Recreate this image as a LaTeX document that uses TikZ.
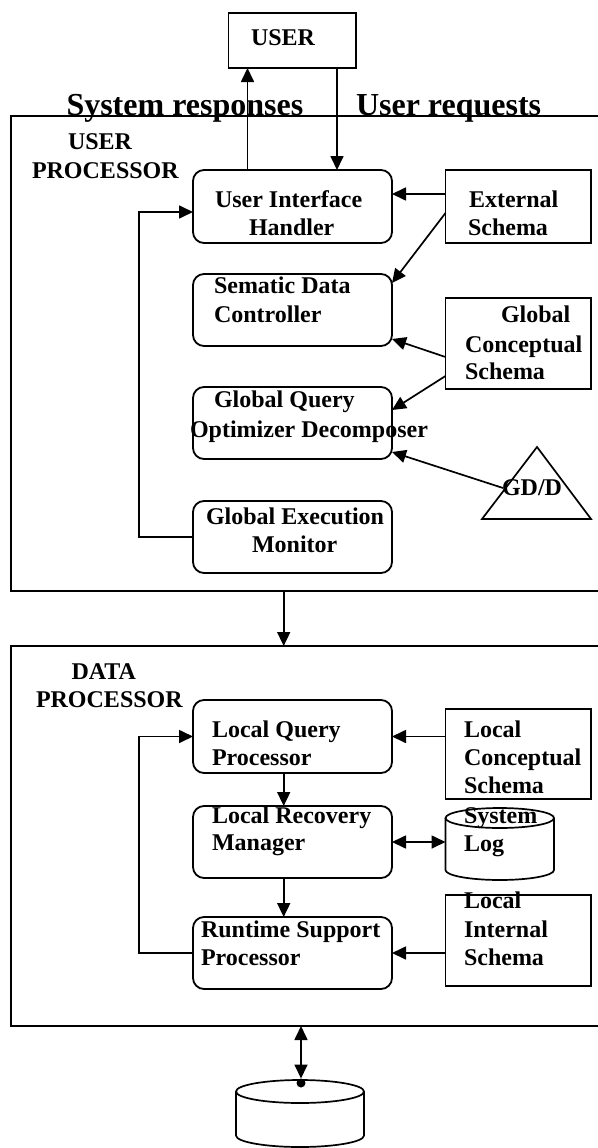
\documentclass[tikz,border=0pt]{standalone}
\usepackage{fontspec}
\setmainfont{Liberation Serif}
\usetikzlibrary{arrows.meta}

\begin{document}
\begin{tikzpicture}[x=1pt,y=-1pt,
  every node/.style={inner sep=0pt, outer sep=0pt},
  lbl/.style={font=\fontsize{24}{28}\selectfont\bfseries, anchor=base west},
  big/.style={font=\fontsize{32}{36}\selectfont\bfseries, anchor=base west},
  rbox/.style={draw, line width=1.8pt, rounded corners=11pt, minimum width=199pt, minimum height=72pt},
  sbox/.style={draw, line width=1.8pt, minimum width=145.5pt},
  frame/.style={draw, line width=1.8pt, minimum width=609pt},
  conn/.style={line width=1.7pt},
  arr/.style={conn, -{Triangle[length=14pt,width=13pt]}},
  darr/.style={conn, {Triangle[length=14pt,width=13pt]}-{Triangle[length=14pt,width=13pt]}}]

\useasboundingbox (0,0) rectangle (597,1148);
\fill[white] (0,0) rectangle (597,1148);

% ---------- user and the two processor frames ----------
\node[draw, line width=1.8pt, minimum width=127.5pt, minimum height=55pt] (user) at (292.25,40.5) {};
\node[lbl] (t-user) at (251,46) {USER};

\node[frame, minimum height=475pt] (up) at (315.5,353.5) {};
\node[frame, minimum height=380pt] (dp) at (315.5,836) {};

\node[big] (t-resp) at (66.5,115.5) {System responses};
\node[big] (t-req) at (356,115.5) {User requests};

\node[lbl] (t-up1) at (68,149) {USER};
\node[lbl] (t-up2) at (32,178) {PROCESSOR};
\node[lbl] (t-dp1) at (71.5,679) {DATA};
\node[lbl] (t-dp2) at (36,707) {PROCESSOR};

% ---------- user processor modules ----------
\node[rbox, minimum height=73pt] (uih) at (292.5,206.5) {};
\node[lbl] (t-uih1) at (215,207) {User Interface};
\node[lbl] (t-uih2) at (249,235) {Handler};

\node[rbox] (sdc) at (292.5,310) {};
\node[lbl] (t-sdc1) at (214,293) {Sematic Data};
\node[lbl] (t-sdc2) at (214,322) {Controller};

\node[rbox] (gq) at (292.5,423) {};
\node[lbl] (t-gq1) at (214,407) {Global Query};
\node[lbl] (t-gq2) at (190,437) {Optimizer Decomposer};

\node[rbox] (gem) at (292.5,537) {};
\node[lbl] (t-gem1) at (206,524) {Global Execution};
\node[lbl] (t-gem2) at (252,552) {Monitor};

% ---------- schemas and directory ----------
\node[sbox, minimum height=73pt] (es) at (518.25,206.5) {};
\node[lbl] (t-es1) at (469,207) {External};
\node[lbl] (t-es2) at (468,235) {Schema};

\node[sbox, minimum height=91pt] (gcs) at (518.25,343.5) {};
\node[lbl] (t-gcs1) at (501,322) {Global};
\node[lbl] (t-gcs2) at (465,352) {Conceptual};
\node[lbl] (t-gcs3) at (465,379) {Schema};

\draw[line width=1.7pt] (537,447) -- (482,519) -- (591,519) -- cycle;
\coordinate (gdd) at (503,488);
\node[lbl] (t-gdd) at (502,495) {GD/D};

% ---------- data processor modules ----------
\node[rbox, minimum height=73pt] (lqp) at (292.5,736.5) {};
\node[lbl] (t-lqp1) at (212,737) {Local Query};
\node[lbl] (t-lqp2) at (212,765) {Processor};

\node[rbox] (lrm) at (292.5,842) {};
\node[lbl] (t-lrm1) at (212,823) {Local Recovery};
\node[lbl] (t-lrm2) at (212,850) {Manager};

\node[rbox] (rsp) at (292.5,953) {};
\node[lbl] (t-rsp1) at (201,937) {Runtime Support};
\node[lbl] (t-rsp2) at (201,965) {Processor};

\node[sbox, minimum height=90pt] (lcs) at (518.25,754) {};
\node[lbl] (t-lcs1) at (464,737) {Local};
\node[lbl] (t-lcs2) at (464,765) {Conceptual};
\node[lbl] (t-lcs3) at (464,793) {Schema};

% system log cylinder
\node[minimum width=108.5pt, minimum height=72pt] (syslog) at (499.75,844) {};
\draw[conn] (445.5,818) -- (445.5,870) arc[start angle=180, end angle=360, x radius=54.25pt, y radius=10pt] -- (554,818);
\draw[conn] (499.75,818) ellipse [x radius=54.25pt, y radius=10pt];
\node[lbl] (t-sl1) at (464,823) {System};
\node[lbl] (t-sl2) at (464,851) {Log};

\node[sbox, minimum height=91pt] (lis) at (518.25,940.5) {};
\node[lbl] (t-lis1) at (464,908) {Local};
\node[lbl] (t-lis2) at (464,937) {Internal};
\node[lbl] (t-lis3) at (464,965) {Schema};

% database cylinder
\draw[conn] (236,1091.5) -- (236,1135.5) arc[start angle=180, end angle=360, x radius=64pt, y radius=11.5pt] -- (364,1091.5);
\draw[conn] (300,1091.5) ellipse [x radius=64pt, y radius=11.5pt];
\node[circle, fill, minimum size=9pt] (dbdot) at (301,1083) {};

% ---------- connectors ----------
\coordinate (resp) at (247.5,0);
\coordinate (req) at (337,0);
\coordinate (mid) at (283.7,0);

\draw[arr] (uih.north -| resp) -- (user.south -| resp);
\draw[arr] (user.south -| req) -- (uih.north -| req);

\draw[arr] ([yshift=12.5pt]es.west) -- ([yshift=12.5pt]uih.east);
\draw[arr] ([yshift=-6.5pt]es.west) -- ([yshift=-9pt]sdc.north east);
\draw[arr] ([yshift=-13.5pt]gcs.west) -- ([yshift=7pt]sdc.south east);
\draw[arr] ([yshift=-32.5pt]gcs.west) -- ([yshift=-23pt]gq.north east);
\draw[arr] (gdd) -- ([yshift=7pt]gq.south east);

\draw[arr] (gem.west) -- ++(-54,0) |- ([yshift=-5.5pt]uih.west);

\draw[arr] (up.south -| mid) -- (dp.north -| mid);

\draw[arr] (lqp.east -| lcs.west) -- (lqp.east);
\draw[arr] (lqp.south -| mid) -- (lrm.north -| mid);
\draw[darr] (lrm.east) -- (lrm.east -| syslog.west);
\draw[arr] (lrm.south -| mid) -- (rsp.north -| mid);
\draw[arr] (rsp.east -| lis.west) -- (rsp.east);
\draw[arr] (rsp.west) -- ++(-54,0) |- (lqp.west);

\draw[darr] (dp.south -| dbdot) -- (dbdot.north);
\end{tikzpicture}
\end{document}
